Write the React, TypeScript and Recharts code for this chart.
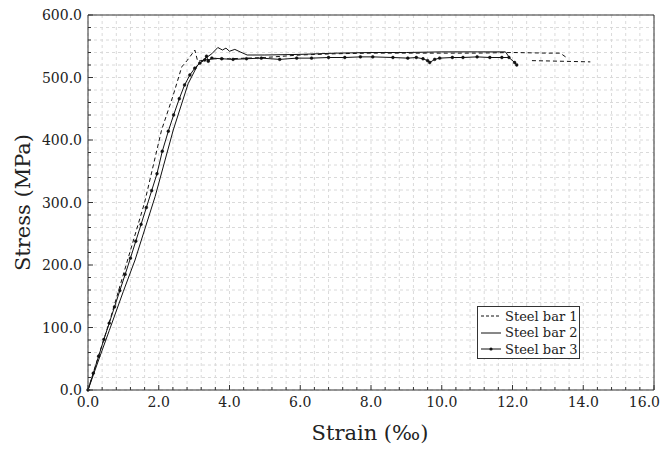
import React from 'react';
import { LineChart, Line, XAxis, YAxis, CartesianGrid } from 'recharts';

// ---- data ----
const strain1 = [0, 0.3, 0.6, 1.13, 1.6, 2.08, 2.4, 2.65, 2.8, 2.97, 3.02, 3.1, 3.3, 3.6, 4.0, 4.5, 5.0, 6.0, 7.0, 8.0, 9.0, 10.0, 11.0, 12.0, 13.0, 13.35, 13.5, 13.5, 12.55, 13.4, 14.2];
const stress1 = [0, 55, 108, 210, 300, 416, 470, 517, 527, 540, 544, 526, 528, 530, 530, 531, 532, 536, 538, 539, 539, 539, 539, 540, 539, 539, 533, null, 527, 526, 525];

const strain2 = [0, 0.3, 0.6, 1.0, 1.33, 1.9, 2.41, 2.83, 3.1, 3.3, 3.5, 3.67, 3.8, 3.9, 4.0, 4.15, 4.3, 4.5, 5.0, 6.0, 7.0, 8.0, 9.0, 10.0, 11.0, 11.8, 11.9];
const stress2 = [0, 48, 95, 158, 208, 310, 416, 490, 520, 530, 538, 548, 544, 547, 542, 545, 541, 536, 536, 537, 539, 540, 540, 541, 541, 541, 533];

const strain3 = [0, 0.15, 0.3, 0.45, 0.6, 0.75, 0.9, 1.05, 1.2, 1.35, 1.5, 1.65, 1.8, 1.95, 2.1, 2.27, 2.42, 2.58, 2.73, 2.88, 3.02, 3.16, 3.3, 3.35, 3.4, 3.5, 3.78, 4.1, 4.48, 4.9, 5.42, 5.9, 6.32, 6.8, 7.26, 7.7, 8.05, 8.62, 9.04, 9.28, 9.47, 9.6, 9.66, 9.8, 9.94, 10.3, 10.6, 11.0, 11.36, 11.7, 11.9, 12.06, 12.12];
const stress3 = [0, 27, 54, 81, 107, 133, 159, 185, 211, 238, 265, 292, 319, 346, 382, 414, 440, 466, 488, 504, 515, 523, 528, 534, 526, 531, 530, 529, 530, 531, 529, 531, 531, 532, 532, 533, 533, 532, 531, 532, 530, 527, 524, 529, 531, 532, 532, 533, 532, 532, 532, 524, 520];

const seriesNames = ['Steel bar 1', 'Steel bar 2', 'Steel bar 3'];
const majorXTicks = [0, 2, 4, 6, 8, 10, 12, 14, 16];
const majorYTicks = [0, 100, 200, 300, 400, 500, 600];
const xLabel = 'Strain (‰)';
const yLabel = 'Stress (MPa)';

// minor tick positions (5 subdivisions per major)
const xTicks: number[] = [];
for (let i = 0; i <= 40; i++) xTicks.push(+(i * 0.4).toFixed(1));
const yTicks: number[] = [];
for (let i = 0; i <= 30; i++) yTicks.push(i * 20);

const zip = (xs: number[], ys: (number | null)[]) => xs.map((s, i) => ({ strain: s, stress: ys[i] }));
const data1 = zip(strain1, stress1);
const data2 = zip(strain2, stress2);
const data3 = zip(strain3, stress3);

const FONT = 'DejaVu Serif, serif';
const AX = '#333';
const CHART_W = 653;

const isMajor = (v: number, step: number) => Math.abs(v / step - Math.round(v / step)) < 1e-6;

const BottomTick = (p: any) => {
  const { x, y, payload } = p;
  const v = payload.value;
  const major = isMajor(v, 2);
  // keep the last label inside the visible page
  const overflow = x + 16 > CHART_W;
  return (
    <g>
      <line x1={x} x2={x} y1={y} y2={y - (major ? 5 : 3)} stroke={AX} strokeWidth={1} />
      {major && majorXTicks.includes(v) && (
        <text x={overflow ? CHART_W - 1 : x} y={y + 17} textAnchor={overflow ? 'end' : 'middle'} fontSize={14} fontFamily={FONT} fill="#222">
          {v.toFixed(1)}
        </text>
      )}
    </g>
  );
};
const TopTick = (p: any) => {
  const { x, y, payload } = p;
  const major = isMajor(payload.value, 2);
  return <line x1={x} x2={x} y1={y} y2={y + (major ? 5 : 3)} stroke={AX} strokeWidth={1} />;
};
const LeftTick = (p: any) => {
  const { x, y, payload } = p;
  const v = payload.value;
  const major = isMajor(v, 100);
  return (
    <g>
      <line x1={x} x2={x + (major ? 5 : 3)} y1={y} y2={y} stroke={AX} strokeWidth={1} />
      {major && majorYTicks.includes(v) && (
        <text x={x - 6} y={y} dy="0.36em" textAnchor="end" fontSize={14} fontFamily={FONT} fill="#222">
          {v.toFixed(1)}
        </text>
      )}
    </g>
  );
};
const RightTick = (p: any) => {
  const { x, y, payload } = p;
  const major = isMajor(payload.value, 100);
  return <line x1={x} x2={x - (major ? 5 : 3)} y1={y} y2={y} stroke={AX} strokeWidth={1} />;
};

const XTitle = (p: any) => {
  const vb = p.viewBox || { x: 80, y: 382, width: 566, height: 55 };
  return (
    <text x={vb.x + vb.width / 2 - 1} y={vb.y + 50} textAnchor="middle" fontSize={21} fontFamily={FONT} fill="#222">
      {xLabel}
    </text>
  );
};
const YTitle = (p: any) => {
  const vb = p.viewBox || { x: 0, y: 7, width: 80, height: 375 };
  const cx = 22;
  const cy = vb.y + vb.height / 2;
  return (
    <text x={cx} y={cy} transform={`rotate(-90, ${cx}, ${cy})`} textAnchor="middle" fontSize={21} fontFamily={FONT} fill="#222">
      {yLabel}
    </text>
  );
};

const LegendBox = () => {
  const row: React.CSSProperties = { display: 'flex', alignItems: 'center', height: 16.5, whiteSpace: 'nowrap' };
  return (
    <div
      style={{
        position: 'absolute', left: 469, top: 298, width: 101, height: 50,
        border: `1px solid ${AX}`, background: '#fff', fontFamily: FONT, fontSize: 13,
        color: '#222', paddingTop: 1, boxSizing: 'content-box',
      }}
    >
      {seriesNames.map((name, i) => (
        <div key={name} style={row}>
          <svg width={22} height={10} style={{ marginLeft: 2, marginRight: 3 }}>
            <line x1={1} x2={21} y1={5} y2={5} stroke="#111" strokeWidth={1} strokeDasharray={i === 0 ? '3 2' : undefined} />
            {i === 2 && <circle cx={11} cy={5} r={1.6} fill="#111" />}
          </svg>
          <span>{name}</span>
        </div>
      ))}
    </div>
  );
};

export default function App() {
  return (
    <div style={{ position: 'relative', width: CHART_W, height: 437 }}>
      <LineChart width={CHART_W} height={437} margin={{ top: 6, right: 6, left: 0, bottom: 0 }}>
        <CartesianGrid stroke="#dadada" strokeDasharray="3 3" />
        <XAxis
          xAxisId={0} dataKey="strain" type="number" domain={[0, 16]} ticks={xTicks} interval={0}
          allowDuplicatedCategory={false} height={55} tickSize={0} tickMargin={0}
          tick={<BottomTick />} axisLine={{ stroke: AX }} tickLine={false} label={<XTitle />}
        />
        <XAxis
          xAxisId="top" orientation="top" dataKey="strain" type="number" domain={[0, 16]} ticks={xTicks}
          interval={0} height={1} tickSize={0} tickMargin={0} tick={<TopTick />} axisLine={{ stroke: AX }} tickLine={false}
        />
        <YAxis
          yAxisId={0} type="number" domain={[0, 600]} ticks={yTicks} interval={0} width={80}
          tickSize={0} tickMargin={0} tick={<LeftTick />} axisLine={{ stroke: AX }} tickLine={false} label={<YTitle />}
        />
        <YAxis
          yAxisId="right" orientation="right" type="number" domain={[0, 600]} ticks={yTicks} interval={0}
          width={1} tickSize={0} tickMargin={0} tick={<RightTick />} axisLine={{ stroke: AX }} tickLine={false}
        />
        <Line data={data1} dataKey="stress" name={seriesNames[0]} stroke="#111" strokeWidth={1}
          strokeDasharray="4 3" dot={false} isAnimationActive={false} connectNulls={false} />
        <Line data={data2} dataKey="stress" name={seriesNames[1]} stroke="#111" strokeWidth={1}
          dot={false} isAnimationActive={false} />
        <Line data={data3} dataKey="stress" name={seriesNames[2]} stroke="#111" strokeWidth={1}
          dot={{ r: 1.4, fill: '#111', stroke: '#111', strokeWidth: 0.5 }} isAnimationActive={false} />
      </LineChart>
      <LegendBox />
    </div>
  );
}
